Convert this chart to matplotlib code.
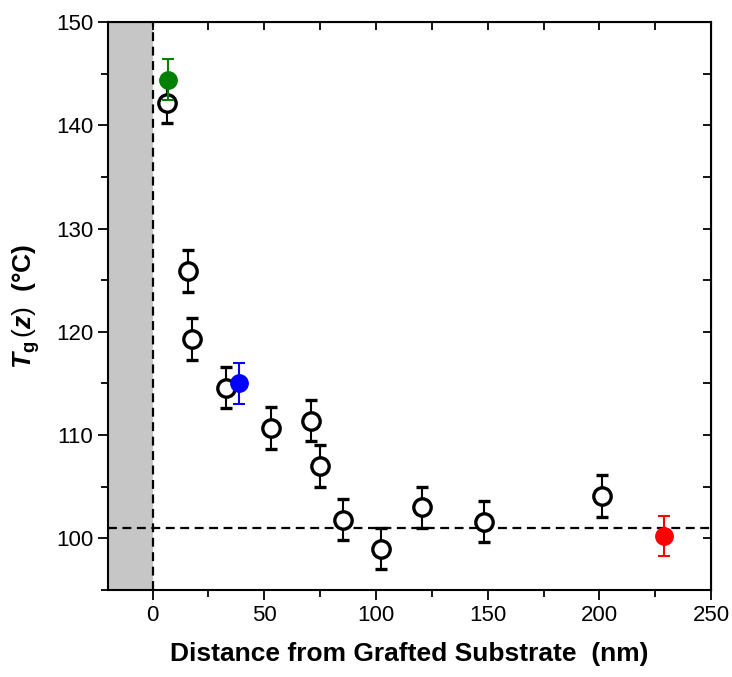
import numpy as np
import matplotlib
matplotlib.use('Agg')
import matplotlib.pyplot as plt
from matplotlib.ticker import MultipleLocator

plt.rcParams['font.family'] = ['Liberation Sans', 'DejaVu Sans']
plt.rcParams['mathtext.fontset'] = 'custom'
plt.rcParams['mathtext.rm'] = 'Liberation Sans'
plt.rcParams['mathtext.bf'] = 'Liberation Sans:bold'
plt.rcParams['mathtext.it'] = 'Liberation Sans:italic'
plt.rcParams['mathtext.bfit'] = 'Liberation Sans:bold:italic'

# open circles: T_g(z) vs distance
z_open = [6.5, 15.8, 17.6, 32.7, 53.2, 71.1, 75.1, 85.3, 102.4, 120.7, 148.4, 201.0]
tg_open = [142.2, 125.9, 119.3, 114.6, 110.7, 111.4, 107.0, 101.8, 99.0, 103.0, 101.6, 104.1]
err_open = [2.0] * len(z_open)

# filled points
z_fill = [6.7, 38.7, 229.1]
tg_fill = [144.4, 115.0, 100.2]
err_fill = [2.0, 2.0, 1.95]
fill_colors = ['#008000', '#0000ff', '#ff0000']

tg_bulk = 101.0

fig = plt.figure(figsize=(7.32, 6.77), dpi=100)
ax = fig.add_axes([0.1475, 0.1285, 0.824, 0.839])

ax.axvspan(-20, 0, color='#c6c6c6', zorder=0, lw=0)
ax.axvline(0, color='k', ls=(0, (4, 2.5)), lw=1.6, zorder=1)
ax.axhline(tg_bulk, color='k', ls=(0, (4, 2.5)), lw=1.6, zorder=1)

ax.errorbar(z_open, tg_open, yerr=err_open, fmt='o', mfc='white', mec='k',
            mew=2.4, ms=12.5, ecolor='k', elinewidth=1.5, capsize=4.5,
            capthick=1.5, zorder=3)
for zz, tt, ee, cc in zip(z_fill, tg_fill, err_fill, fill_colors):
    ax.errorbar([zz], [tt], yerr=[ee], fmt='o', mfc=cc, mec=cc, ms=12.5,
                ecolor=cc, elinewidth=1.5, capsize=4.5, capthick=1.5, zorder=4)

ax.set_xlim(-20, 250)
ax.set_ylim(95, 150)
ax.xaxis.set_major_locator(MultipleLocator(50))
ax.xaxis.set_minor_locator(MultipleLocator(25))
ax.yaxis.set_major_locator(MultipleLocator(10))
ax.yaxis.set_minor_locator(MultipleLocator(5))

ax.tick_params(which='both', direction='out', top=False, right=False,
               labelsize=16, width=1.3)
ax.tick_params(which='major', length=7)
ax.tick_params(which='minor', length=5)
for sp in ax.spines.values():
    sp.set_linewidth(1.5)

# inward ticks on top and right
axt = ax.secondary_xaxis('top')
axt.set_xticks(np.arange(0, 251, 25))
axt.tick_params(direction='in', length=6, width=1.3, labeltop=False)
axr = ax.secondary_yaxis('right')
axr.set_yticks(np.arange(95, 151, 5))
axr.tick_params(direction='in', length=6, width=1.3, labelright=False)

ax.set_xlabel('Distance from Grafted Substrate  (nm)', fontsize=19,
              fontweight='bold', labelpad=12)
ax.set_ylabel(r'$\mathbfit{T}_{\mathbf{g}}\,(\mathbfit{z})$  $\mathbf{(°C)}$',
              fontsize=19, labelpad=10)

fig.savefig('out.png', dpi=100)
